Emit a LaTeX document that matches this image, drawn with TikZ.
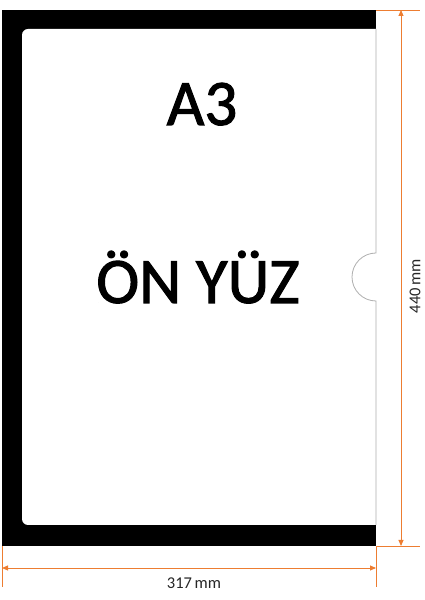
\documentclass[tikz,border=0pt]{standalone}
\usepackage{fontspec}
\setmainfont{Carlito}
\newfontfamily\heavyfont[FakeBold=1.6]{Carlito}
\usetikzlibrary{arrows.meta}
\definecolor{dimorange}{RGB}{237,125,49}
\definecolor{edgegrey}{RGB}{175,175,175}
\tikzset{
  dimline/.style={draw=dimorange, line width=0.9pt, {Triangle[length=6pt,width=5pt]}-{Triangle[length=6pt,width=5pt]}},
  extline/.style={draw=dimorange, line width=0.9pt},
  bigtext/.style={font=\heavyfont\fontsize{65}{65}\selectfont, anchor=base, inner sep=0pt},
  dimtext/.style={font=\fontsize{16.5}{16.5}\selectfont, text=black!85, inner sep=0pt}
}
\begin{document}
\begin{tikzpicture}[x=1pt,y=1pt]
\useasboundingbox (0,0) rectangle (424,600);
% black frame
\fill[black] (2,54) rectangle (376,590);
% white sheet area
\fill[white, rounded corners=6pt] (380,571) -- (22,571) -- (22,75) -- (380,75);
\fill[white] (376,571) rectangle (380,75);
% sheet right edge with notch
\draw[edgegrey, line width=0.8pt] (376,571) -- (376,347) arc[start angle=90, end angle=270, radius=24] -- (376,75);
% texts
\node[bigtext] (a3) at (202,475) {A3};
\node[bigtext] (onyuz) at (198,297) {ÖN YÜZ};
% dimension coordinates
\coordinate (tl) at (376,590);
\coordinate (tr) at (420,590);
\coordinate (bl) at (376,54);
\coordinate (br) at (420,54);
\coordinate (vt) at (401,590);
\coordinate (vb) at (401,54);
\coordinate (lt) at (2,54);
\coordinate (lb) at (2,13);
\coordinate (rt) at (376,54);
\coordinate (rb) at (376,13);
\coordinate (hl) at (2,32);
\coordinate (hr) at (376,32);
\draw[extline] (tl) -- (tr);
\draw[extline] (bl) -- (br);
\draw[extline] (lt) -- (lb);
\draw[extline] (rt) -- (rb);
\draw[dimline] (vt) -- (vb);
\draw[dimline] (hl) -- (hr);
\node[dimtext] (w) at (194,17) {317\,mm};
\node[dimtext, rotate=90] (h) at (415,314) {440\,mm};
\end{tikzpicture}
\end{document}
